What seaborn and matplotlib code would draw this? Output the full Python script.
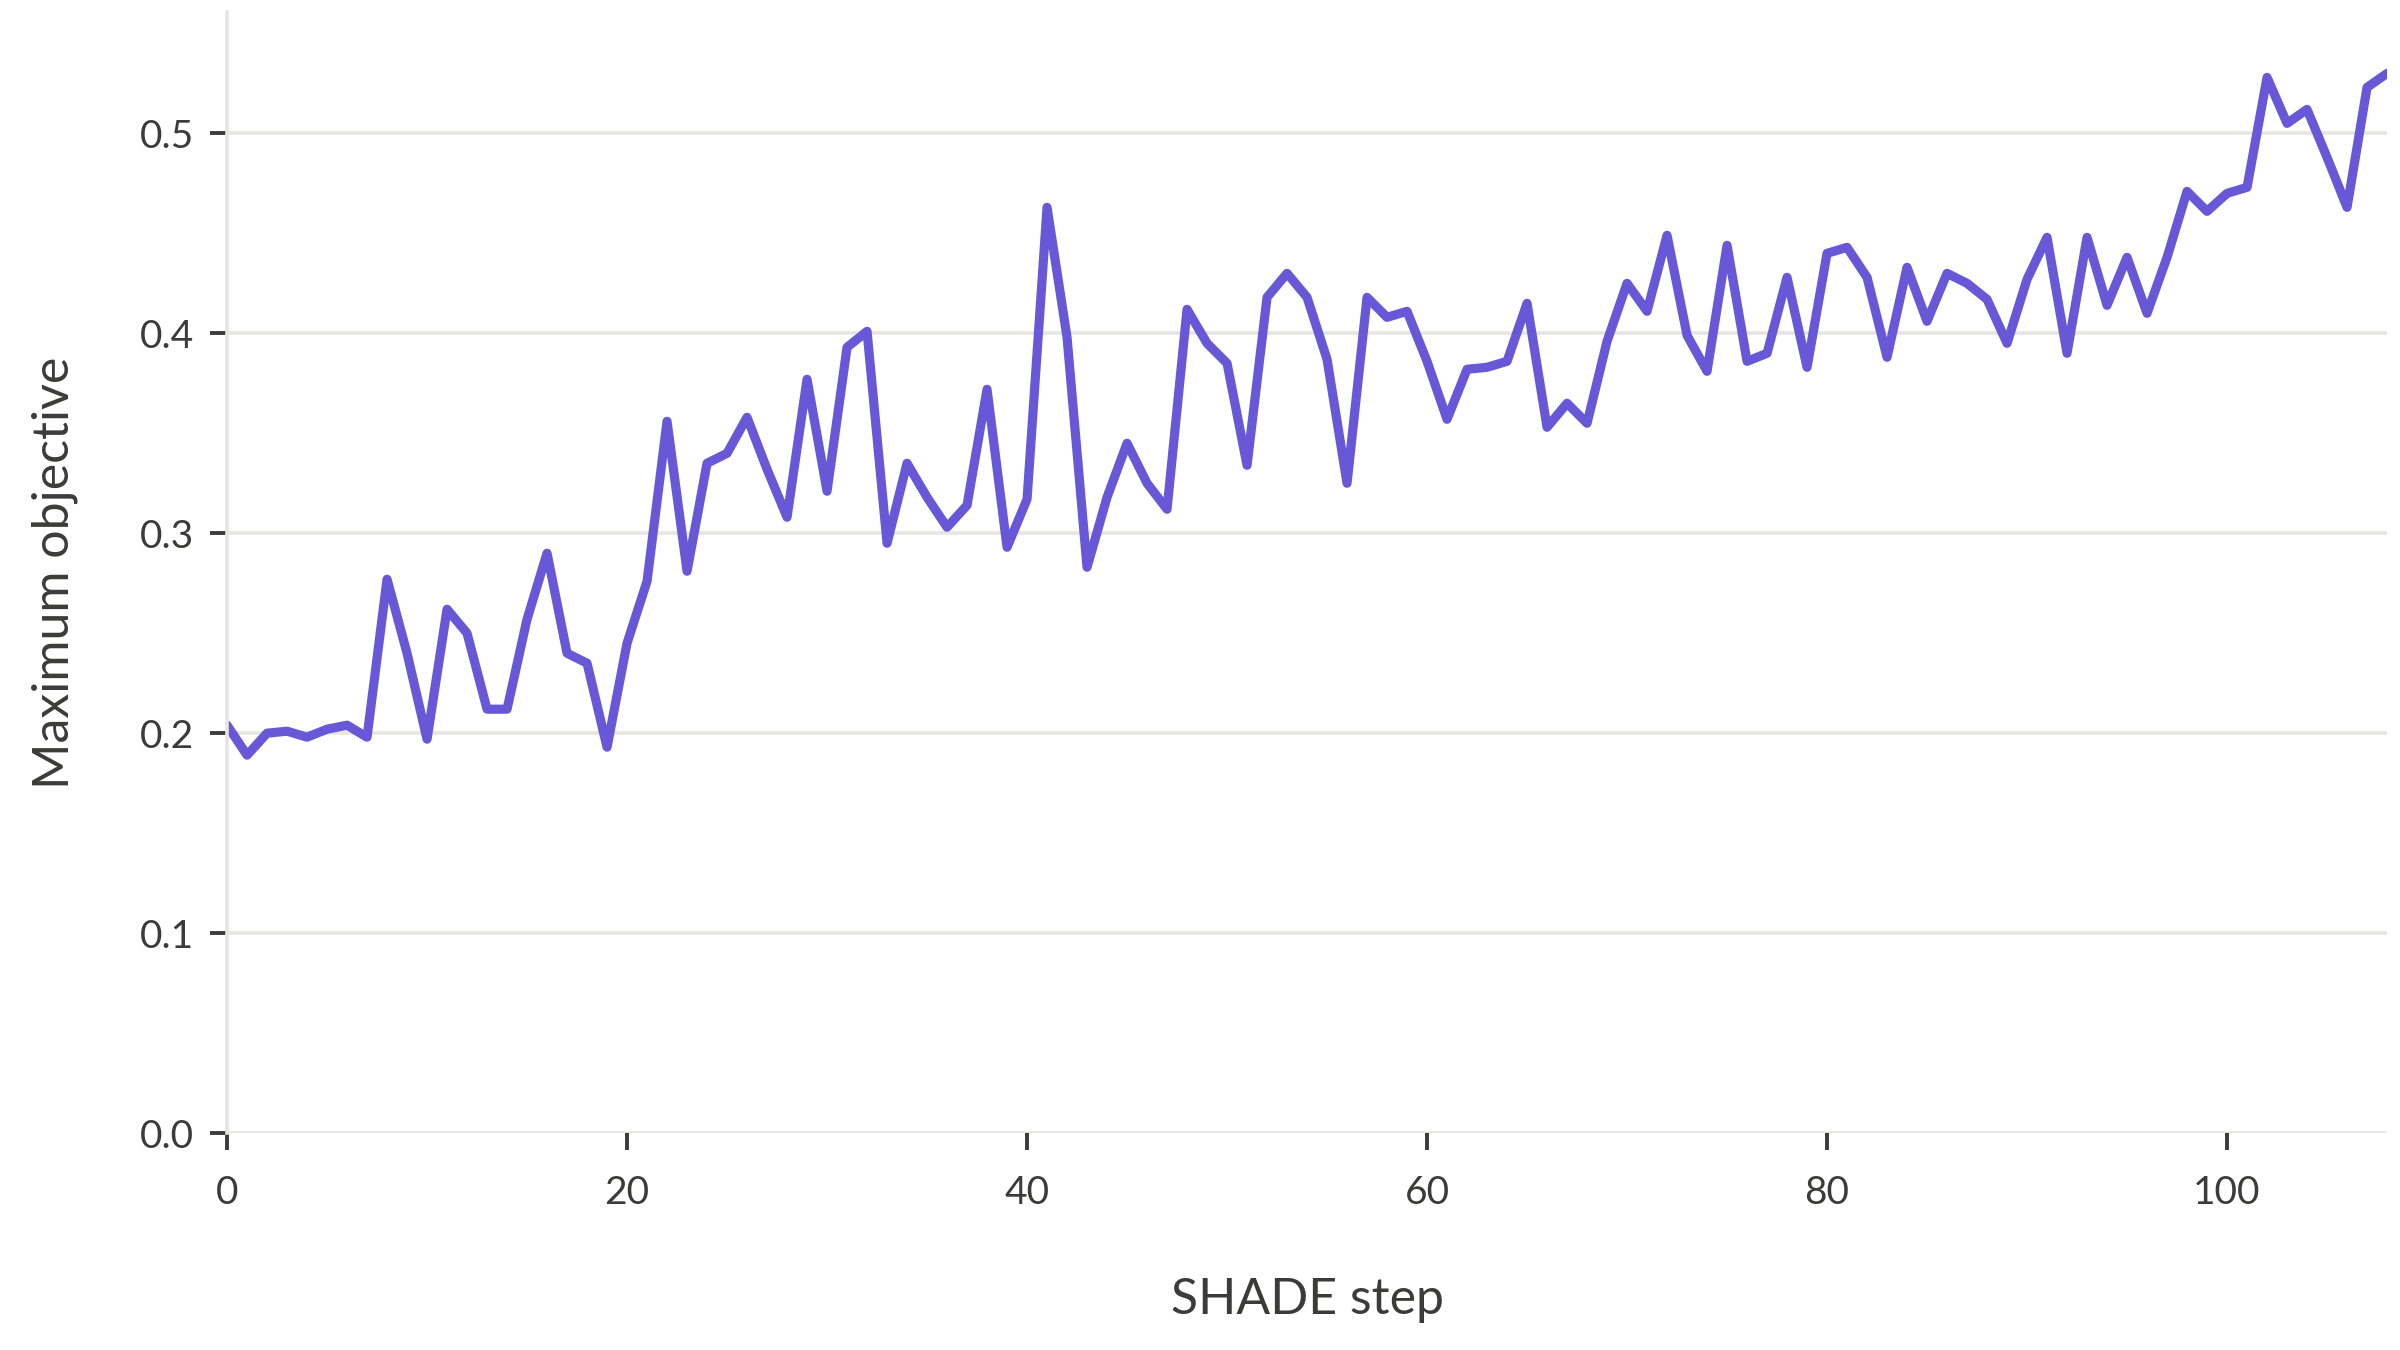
import matplotlib.pyplot as plt
import pandas as pd
import numpy as np
import seaborn as sns

### Dados
passos = list(range(0, 109))
objetivo = [
    0.204, 0.189, 0.200, 0.201, 0.198, 0.202, 0.204, 0.198, 0.277, 0.240,
    0.197, 0.262, 0.250, 0.212, 0.212, 0.257, 0.290, 0.240, 0.235, 0.193,
    0.245, 0.276, 0.356, 0.281, 0.335, 0.340, 0.358, 0.332, 0.308, 0.377,
    0.321, 0.393, 0.401, 0.295, 0.335, 0.318, 0.303, 0.314, 0.372, 0.293,
    0.317, 0.463, 0.398, 0.283, 0.318, 0.345, 0.325, 0.312, 0.412, 0.395,
    0.385, 0.334, 0.418, 0.430, 0.418, 0.387, 0.325, 0.418, 0.408, 0.411,
    0.386, 0.357, 0.382, 0.383, 0.386, 0.415, 0.353, 0.365, 0.355, 0.396,
    0.425, 0.411, 0.449, 0.399, 0.381, 0.444, 0.386, 0.390, 0.428, 0.383,
    0.440, 0.443, 0.428, 0.388, 0.433, 0.406, 0.430, 0.425, 0.417, 0.395,
    0.427, 0.448, 0.390, 0.448, 0.414, 0.438, 0.410, 0.438, 0.471, 0.461,
    0.470, 0.473, 0.528, 0.505, 0.512, 0.488, 0.463, 0.523, 0.530,
]
xticks = [0, 20, 40, 60, 80, 100]
yticks = [0.0, 0.1, 0.2, 0.3, 0.4, 0.5]

df = pd.DataFrame({"SHADE step": passos, "Maximum objective": objetivo})

### Estilo
sns.set_theme(style="white")
plt.rcParams["font.family"] = ["Lato", "DejaVu Sans"]
cor_texto = "#3b3b38"
cor_grade = "#e6e5e1"

fig = plt.figure(figsize=(12, 6.75), dpi=200)
ax = fig.add_axes([0.0946, 0.1607, 0.9000, 0.8304])

sns.lineplot(data=df, x="SHADE step", y="Maximum objective", color="#6858d8", linewidth=3.3, ax=ax)

ax.set_xlim(0, 108)
ax.set_ylim(0, 0.5607)
ax.set_xticks(xticks)
ax.set_yticks(yticks)
ax.set_yticklabels([f"{v:.1f}" for v in yticks])

ax.grid(axis="y", color=cor_grade, linewidth=1.3)
ax.grid(axis="x", visible=False)
ax.set_axisbelow(True)
for lado in ["top", "right", "bottom"]:
    ax.spines[lado].set_visible(False)
ax.spines["left"].set_color(cor_grade)
ax.spines["left"].set_linewidth(1.3)

ax.tick_params(axis="both", colors=cor_texto, labelsize=14, length=6, width=1.4)
ax.tick_params(axis="x", pad=9)
ax.tick_params(axis="y", pad=6)
ax.tick_params(axis="x", bottom=True)
ax.tick_params(axis="y", left=True)

ax.set_xlabel("SHADE step", fontsize=18, color=cor_texto, labelpad=24)
ax.set_ylabel("Maximum objective", fontsize=18, color=cor_texto, labelpad=22)

plt.savefig("out.png", dpi=200)
